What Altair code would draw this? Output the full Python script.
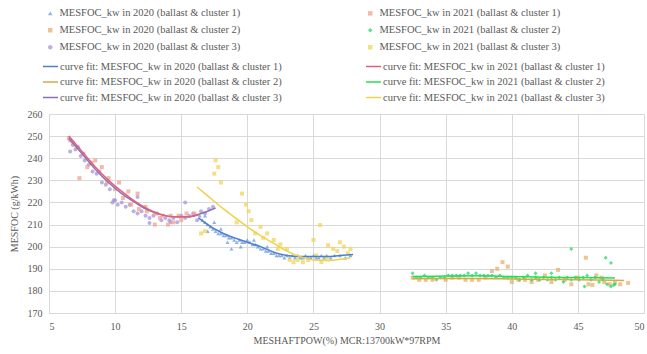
import altair as alt
import pandas as pd

# ---------------- data ----------------
L20 = "MESFOC_kw  in 2020 (ballast & cluster {})"
L21 = "MESFOC_kw  in 2021 (ballast & cluster {})"
F20 = "curve fit: MESFOC_kw  in 2020 (ballast & cluster {})"
F21 = "curve fit: MESFOC_kw  in 2021 (ballast & cluster {})"

# 2020 cluster 1 (blue, middle band)
p20c1_x = [16.4, 16.6, 16.8, 17.0, 17.2, 17.4, 17.6, 17.8, 18.0, 18.2, 18.4, 18.6, 18.8, 19.0, 19.2, 19.4,
           19.6, 19.8, 20.0, 20.2, 20.4, 20.6, 20.8, 21.0, 21.2, 21.4, 21.6, 21.8, 22.0, 22.2, 22.4, 22.6,
           22.8, 23.0, 23.2, 23.4, 23.6, 23.8, 24.0, 24.2, 24.4, 24.6, 24.8, 25.0, 25.2, 25.4, 25.6, 25.8,
           26.0, 26.3, 26.6, 27.0, 27.4, 27.8, 17.0, 18.0, 18.5, 19.5, 20.5, 21.5, 17.5, 16.8, 18.8]
p20c1_y = [214, 212, 211, 210, 209, 208, 207, 206, 206, 205, 205, 204, 204, 203, 202, 203,
           202, 202, 203, 202, 201, 201, 200, 199, 199, 198, 198, 197, 197, 196, 196, 196,
           195, 196, 195, 196, 195, 196, 195, 195, 196, 195, 195, 196, 195, 195, 196, 195,
           196, 195, 196, 196, 195, 196, 207, 208, 202, 200, 203, 200, 211, 214, 199]

# 2020 cluster 2 (right band, orange/khaki)
p20c2_x = [32.5, 33.0, 33.5, 34.0, 35.0, 35.5, 36.0, 36.5, 37.0, 37.5, 38.0, 38.5, 38.9, 39.3, 39.7,
           40.0, 40.5, 41.0, 41.5, 42.0, 42.5, 43.0, 43.5, 44.0, 44.5, 45.0, 45.6, 45.8, 46.1, 46.4,
           46.8, 47.0, 47.4, 47.8, 48.2, 48.8]
p20c2_y = [186, 185, 185, 185, 185, 186, 186, 185, 185, 185, 186, 189, 190, 193, 191,
           184, 185, 185, 184, 185, 187, 184, 189.5, 185, 183, 186, 195, 183, 182.7, 187,
           186, 184, 183, 184, 183, 183.6]

# 2020 cluster 3 (lavender, left band)
p20c3_x = [6.6, 6.8, 7.0, 7.2, 7.4, 7.7, 8.0, 8.3, 8.6, 9.0, 9.3, 9.6, 9.9, 10.2, 10.5, 10.8, 11.1,
           11.4, 11.7, 12.0, 12.3, 12.6, 12.9, 13.2, 13.5, 13.8, 14.1, 14.4, 14.7, 15.0, 15.3, 15.6,
           15.9, 16.2, 16.5, 16.8, 17.1, 17.4, 9.8, 10.0, 11.7, 15.3, 6.6, 12.6, 14.2]
p20c3_y = [248, 246, 244, 245, 241, 239, 237, 234, 233, 229, 228, 226, 221, 219, 220, 218, 219,
           216, 215, 216, 214, 213, 214, 215, 212, 213, 212, 213, 211, 214, 213, 214,
           215, 212, 216, 215, 217, 218, 220, 221, 222.5, 220, 243, 210.7, 211]

# 2021 cluster 1 (salmon, left band)
p21c1_x = [7.3, 7.9, 8.5, 9.0, 9.5, 10.3, 11.0, 11.7, 12.3, 13.0, 13.4, 14.0, 14.4, 15.0,
           6.5, 6.8, 7.1, 7.6, 8.2, 8.8, 9.4, 10.0, 10.6, 11.2, 11.8, 12.4, 13.0, 13.6, 14.2,
           14.8, 15.4, 16.0]
p21c1_y = [231, 236, 239, 236, 231, 229, 225, 224, 218, 210, 213, 210, 211, 212,
           249, 247, 245, 242, 238, 234, 229, 226, 222, 219, 217, 216, 215, 214, 214,
           214, 215, 215]

# 2021 cluster 2 (green, right band)
p21c2_x = [32.5, 32.8, 33.1, 33.4, 33.7, 34.0, 34.3, 34.6, 34.9, 35.2, 35.5, 35.8, 36.1, 36.4, 36.7,
           37.0, 37.3, 37.6, 37.9, 38.2, 38.5, 38.8, 39.1, 39.4, 39.7, 40.0, 40.3, 40.6, 40.9, 41.2,
           41.5, 41.8, 42.1, 42.4, 42.7, 43.0, 43.3, 43.6, 43.9, 44.2, 44.5, 44.8, 45.1, 45.4, 45.7,
           46.0, 46.3, 46.6, 46.9, 47.2, 47.5, 47.8, 44.5, 47.1, 47.5, 41.8, 43.0, 45.5, 47.7]
p21c2_y = [188, 186, 186, 187, 186, 186, 185, 186, 186, 187, 187, 187, 187, 187, 188,
           187, 188, 187, 187, 187, 187, 186, 187, 186, 186, 186, 186, 185, 186, 187,
           185, 186, 185, 186, 185, 186, 185, 186, 184, 186, 185, 186, 185, 186, 187,
           185, 186, 184, 185, 183, 182, 183, 199, 195, 192.6, 188, 188, 182, 182.7]

# 2021 cluster 3 (yellow, middle band)
p21c3_x = [16.5, 16.8, 17.6, 17.8, 17.5, 18.0, 19.6, 19.9, 20.1, 20.3, 21.0, 21.5, 22.0, 22.5,
           23.0, 23.2, 23.5, 23.8, 24.2, 24.6, 25.0, 25.2, 25.6, 26.0, 26.5, 26.8, 27.0, 27.3,
           27.6, 27.8, 21.2, 19.2, 22.3, 20.6, 25.5, 26.1]
p21c3_y = [206, 207, 239, 236, 233, 229, 224, 219, 216, 212, 209, 206, 203, 201,
           199, 194, 193, 194, 193, 194, 203, 196, 193, 195, 199, 198, 202, 200,
           197, 199, 204, 211, 199, 206, 209.8, 200.7]

# curve fits
f20c1_x = [16.3, 17, 18, 19, 20, 21, 22, 23, 24, 25, 26, 27, 28]
f20c1_y = [213, 210, 206.5, 204, 202, 200, 197.5, 196, 195.5, 195.5, 195.5, 196, 196.5]
f20c2_x = [32.5, 35, 37.5, 40, 42.5, 45, 48.5]
f20c2_y = [185.5, 185.6, 185.6, 185.4, 185.2, 185, 184.7]
f20c3_x = [6.5, 7.5, 8.5, 9.5, 10.5, 11.5, 12.5, 13.5, 14.5, 15.5, 16.5, 17.6]
f20c3_y = [249, 242, 235, 229, 224, 220, 216.5, 214.5, 213.5, 213.5, 215, 217.5]
f21c1_x = [6.5, 7.5, 8.5, 9.5, 10.5, 11.5, 12.5, 13.5, 14.5, 15.5, 16.3]
f21c1_y = [250, 243, 236, 230, 225, 220.5, 217, 214.5, 213.5, 213.5, 214.3]
f21c2_x = [32.5, 35, 37.5, 40, 42.5, 45, 47.8]
f21c2_y = [186.5, 186.7, 186.8, 186.5, 186.2, 186, 185.8]
f21c3_x = [16.2, 17, 18, 19, 20, 21, 22, 23, 24, 25, 26, 27, 27.8]
f21c3_y = [227, 223, 218, 213.5, 209, 205, 201.5, 198, 195.5, 194, 193.8, 194.3, 195]

x_ticks = [5, 10, 15, 20, 25, 30, 35, 40, 45, 50]
y_ticks = [170, 180, 190, 200, 210, 220, 230, 240, 250, 260]

# ---------------- tables ----------------
# legend grid is filled column by column: 2020 series left, 2021 series right
pt_series = [
    (L20.format(1), p20c1_x, p20c1_y),
    (L20.format(2), p20c2_x, p20c2_y),
    (L20.format(3), p20c3_x, p20c3_y),
    (L21.format(1), p21c1_x, p21c1_y),
    (L21.format(2), p21c2_x, p21c2_y),
    (L21.format(3), p21c3_x, p21c3_y),
]
pt_rows = []
for name, xs_, ys_ in pt_series:
    for x, y in zip(xs_, ys_):
        pt_rows.append({"x": x, "y": y, "s": name})
pts = pd.DataFrame(pt_rows)

fit_series = [
    (F20.format(1), f20c1_x, f20c1_y),
    (F20.format(2), f20c2_x, f20c2_y),
    (F20.format(3), f20c3_x, f20c3_y),
    (F21.format(1), f21c1_x, f21c1_y),
    (F21.format(2), f21c2_x, f21c2_y),
    (F21.format(3), f21c3_x, f21c3_y),
]
fit_rows = []
for name, xs_, ys_ in fit_series:
    for x, y in zip(xs_, ys_):
        fit_rows.append({"x": x, "y": y, "f": name})
fits = pd.DataFrame(fit_rows)

pt_domain = [s[0] for s in pt_series]
pt_colors = ["#6A98D8", "#E6B070", "#A594D8", "#F2A08C", "#1FD86A", "#F2D45A"]
pt_shapes = ["triangle-up", "square", "circle", "square", "diamond", "square"]

fit_domain = [s[0] for s in fit_series]
fit_colors = ["#4E7FCF", "#D8A84A", "#8C70B8", "#E2607C", "#22E04E", "#EED24A"]
fit_widths = [1.5, 1.5, 1.5, 1.5, 3, 2]

FONT = "Liberation Serif"
GREY = "#595959"

xs = alt.X("x:Q", scale=alt.Scale(domain=[5, 50], nice=False),
           axis=alt.Axis(values=x_ticks, title="MESHAFTPOW(%) MCR:13700kW*97RPM"))
ys = alt.Y("y:Q", scale=alt.Scale(domain=[170, 260], nice=False, zero=False),
           axis=alt.Axis(values=y_ticks, title="MESFOC (g/kWh)"))

points = alt.Chart(pts).mark_point(filled=True, size=16, opacity=0.75).encode(
    x=xs, y=ys,
    color=alt.Color("s:N", scale=alt.Scale(domain=pt_domain, range=pt_colors),
                    legend=alt.Legend(title=None, orient="none", legendX=-4, legendY=-106,
                                      columns=2, columnPadding=122, rowPadding=6,
                                      symbolSize=20, labelOffset=4)),
    shape=alt.Shape("s:N", scale=alt.Scale(domain=pt_domain, range=pt_shapes), legend=None),
)

lines = alt.Chart(fits).mark_line(interpolate="monotone").encode(
    x=xs, y=ys,
    color=alt.Color("f:N", scale=alt.Scale(domain=fit_domain, range=fit_colors),
                    legend=alt.Legend(title=None, orient="none", legendX=-7, legendY=-56,
                                      columns=2, columnPadding=78, rowPadding=1.5,
                                      symbolType="stroke", symbolSize=225, labelOffset=1)),
    strokeWidth=alt.StrokeWidth("f:N", scale=alt.Scale(domain=fit_domain, range=fit_widths),
                                legend=None),
)

chart = alt.layer(points, lines).resolve_scale(color="independent", shape="independent",
                                                strokeWidth="independent").properties(
    width=595, height=199,
    autosize=alt.AutoSizeParams(type="none"),
    padding={"left": 49, "top": 114, "right": 3, "bottom": 41},
    background="white",
).configure(font=FONT).configure_view(stroke=None).configure_axis(
    grid=True, gridColor="#D9D9D9", gridWidth=1, domain=False, ticks=False,
    labelFont=FONT, labelFontSize=10, labelColor=GREY,
    titleFont=FONT, titleFontSize=10, titleColor=GREY, titleFontWeight="normal",
).configure_axisX(labelPadding=8, titlePadding=4).configure_axisY(labelPadding=7, titlePadding=8
).configure_legend(
    labelFont=FONT, labelFontSize=10.5, labelColor=GREY, labelLimit=400,
)

chart.save("out.html", embed_options={"renderer": "svg", "actions": False})
